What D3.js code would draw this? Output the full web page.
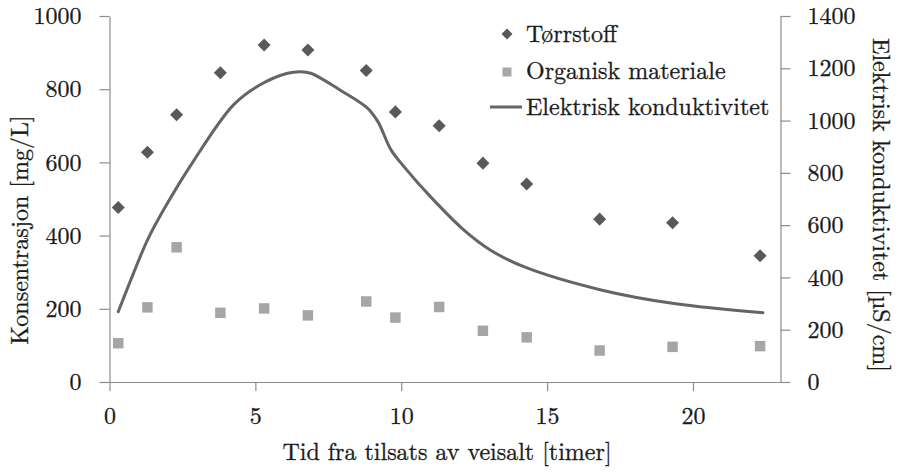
<!DOCTYPE html>
<html>
<head>
<meta charset="utf-8">
<script src="https://cdn.jsdelivr.net/npm/d3@7"></script>
<style>
  html, body { margin: 0; padding: 0; background: #fff; }
  svg { display: block; }
</style>
</head>
<body>
<svg id="chart" width="898" height="473"></svg>
<script>
// ---- data ----
const times = [0.3, 1.3, 2.3, 3.8, 5.3, 6.8, 8.8, 9.8, 11.3, 12.8, 14.3, 16.8, 19.3, 22.3];
const torrstoff = [477, 628, 730, 845, 921, 907, 851, 738, 700, 598, 541, 445, 435, 345];
const organisk = [106, 204, 368, 189, 201, 182, 220, 176, 205, 140, 122, 86, 96, 98];
const condTimes = [0.3, 0.8, 1.3, 1.85, 2.9, 4.25, 5.15, 6.1, 6.55, 6.9, 7.9, 8.85, 9.2, 9.65, 10.1, 11.0, 12.15, 13.05, 14.2, 16.85, 19.35, 22.4];
const condValues = [269, 410, 543, 658, 849, 1060, 1136, 1181, 1187, 1181, 1117, 1047, 996, 888, 823, 709, 581, 505, 441, 352, 300, 265];
const xTicks = [0, 5, 10, 15, 20];
const yTicks = [0, 200, 400, 600, 800, 1000];
const y2Ticks = [0, 200, 400, 600, 800, 1000, 1200, 1400];
const seriesNames = ["Tørrstoff", "Organisk materiale", "Elektrisk konduktivitet"];
const xTitle = "Tid fra tilsats av veisalt [timer]";
const yTitle = "Konsentrasjon [mg/L]";
const y2Title = "Elektrisk konduktivitet [µS/cm]";

// ---- layout ----
const svg = d3.select("#chart");
const FONT = '"Latin Modern Roman"';
const axisColor = "#8c8c8c";
const darkGray = "#595959";
const lightGray = "#a6a6a6";
const lineGray = "#656565";
const textColor = "#1a1a1a";
const fs = 24;

const x = d3.scaleLinear().domain([0, 23]).range([109.5, 780.5]);
const y = d3.scaleLinear().domain([0, 1000]).range([382, 16]);
const y2 = d3.scaleLinear().domain([0, 1400]).range([382, 16]);

function styleText(sel) {
  sel.attr("font-family", FONT).style("font-family", FONT)
    .style("font-size", fs + "px").attr("fill", textColor).style("fill", textColor)
    .attr("stroke", textColor).attr("stroke-width", 0.3);
  return sel;
}
function styleAxis(g) {
  g.attr("font-family", FONT);
  g.selectAll(".domain").attr("stroke", axisColor).attr("stroke-width", 1.2);
  g.selectAll(".tick line").attr("stroke", axisColor).attr("stroke-width", 1.2);
  styleText(g.selectAll(".tick text"));
}

// left axis
const gy = svg.append("g").attr("transform", `translate(${x(0)},0)`)
  .call(d3.axisLeft(y).tickValues(yTicks).tickSize(10).tickSizeOuter(0).tickPadding(18).tickFormat(d3.format("d")));
styleAxis(gy);

// right axis
const gy2 = svg.append("g").attr("transform", `translate(${x(23)},0)`)
  .call(d3.axisRight(y2).tickValues(y2Ticks).tickSize(10).tickSizeOuter(0).tickPadding(17).tickFormat(d3.format("d")));
styleAxis(gy2);

// bottom axis
const gx = svg.append("g").attr("transform", `translate(0,${y(0)})`)
  .call(d3.axisBottom(x).tickValues(xTicks).tickSize(9).tickSizeOuter(0).tickPadding(22).tickFormat(d3.format("d")));
styleAxis(gx);
gx.selectAll(".tick text").attr("dy", "0.45em");

// axis titles
styleText(svg.append("text").attr("x", 447).attr("y", 460).attr("text-anchor", "middle")).text(xTitle);
styleText(svg.append("text").attr("transform", "translate(28,230) rotate(-90)").attr("text-anchor", "middle")).text(yTitle);
styleText(svg.append("text").attr("transform", "translate(873,205) rotate(90)").attr("text-anchor", "middle")).text(y2Title);

// conductivity line
const line = d3.line().x(d => x(d[0])).y(d => y2(d[1])).curve(d3.curveCatmullRom.alpha(0.5));
svg.append("path").datum(condTimes.map((t, i) => [t, condValues[i]]))
  .attr("d", line).attr("fill", "none").attr("stroke", lineGray).attr("stroke-width", 3)
  .attr("stroke-linecap", "round");

// markers
const diamond = d3.symbol().type(d3.symbolSquare).size(85);
const square = d3.symbol().type(d3.symbolSquare).size(110);

svg.append("g").selectAll("path").data(times.map((t, i) => [t, torrstoff[i]])).join("path")
  .attr("d", diamond).attr("fill", darkGray)
  .attr("transform", d => `translate(${x(d[0])},${y(d[1])}) rotate(45)`);

svg.append("g").selectAll("path").data(times.map((t, i) => [t, organisk[i]])).join("path")
  .attr("d", square).attr("fill", lightGray)
  .attr("transform", d => `translate(${x(d[0])},${y(d[1])})`);

// legend
const lg = svg.append("g");
lg.append("path").attr("d", d3.symbol().type(d3.symbolSquare).size(60)())
  .attr("fill", darkGray).attr("transform", "translate(507,34) rotate(45)");
lg.append("path").attr("d", d3.symbol().type(d3.symbolSquare).size(80)())
  .attr("fill", lightGray).attr("transform", "translate(507,72)");
lg.append("line").attr("x1", 490).attr("x2", 522).attr("y1", 107).attr("y2", 107)
  .attr("stroke", lineGray).attr("stroke-width", 3);
seriesNames.forEach((name, i) => {
  styleText(lg.append("text").attr("x", 526).attr("y", 42 + i * 36.7)).text(name);
});
</script>
</body>
</html>
